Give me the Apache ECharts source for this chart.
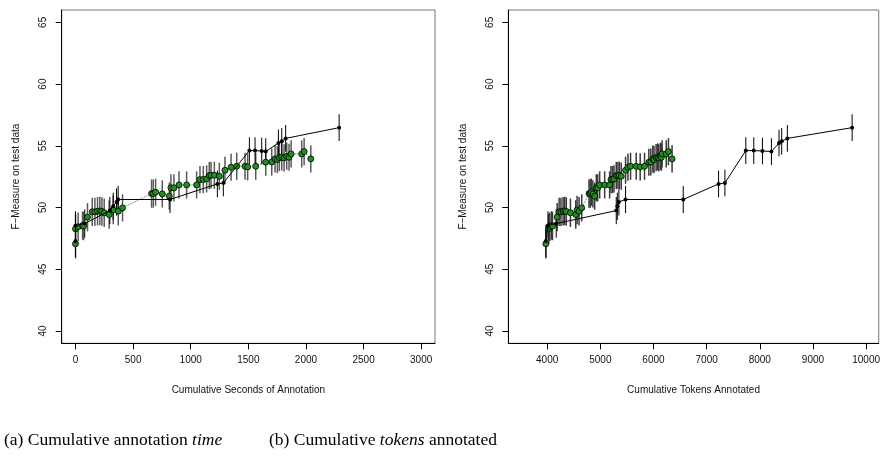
<!DOCTYPE html>
<html><head><meta charset="utf-8">
<script src="https://cdn.jsdelivr.net/npm/echarts@6/dist/echarts.min.js"></script>
<style>html,body{margin:0;padding:0;background:#fff}#c{width:883px;height:460px}</style>
</head><body><div id="c"></div><script>
// ---- data ----
const blackSec = [0, 0, 80, 298, 327, 356, 370, 820, 1231, 1283, 1509, 1558, 1616, 1651, 1761, 1790, 1824, 2288];
const blackTok = [3975, 4015, 4170, 5300, 5320, 5350, 5475, 6560, 7225, 7344, 7737, 7887, 8050, 8219, 8362, 8412, 8519, 9737];
const blackF   = [47.28, 48.55, 48.7, 49.75, 50.1, 50.45, 50.65, 50.65, 51.91, 51.99, 54.61, 54.61, 54.58, 54.53, 55.23, 55.36, 55.6, 56.47];
const blackErr = [1.3, 1.15, 1.15, 1.1, 1.1, 1.1, 1.1, 1.1, 1.08, 1.08, 1.08, 1.08, 1.08, 1.08, 1.08, 1.08, 1.08, 1.08];

const greenSec = [0, 0, 23, 61, 70, 104, 145, 168, 191, 211, 229, 249, 292, 327, 371, 408,
  660, 675, 695, 753, 814, 828, 854, 898, 964, 1051, 1080, 1109, 1138, 1161, 1176, 1205, 1248,
  1297, 1350, 1399, 1471, 1494, 1564, 1651, 1703, 1732, 1752, 1769, 1790, 1810, 1833, 1853, 1871, 1963, 1984, 2042];
const greenTok = [3976, 4030, 4050, 4080, 4100, 4188, 4225, 4260, 4300, 4330, 4360, 4438, 4538, 4563, 4600, 4650,
  4788, 4810, 4832, 4860, 4894, 4925, 4950, 4988, 5082, 5175, 5200, 5230, 5257, 5300, 5332, 5360, 5394,
  5475, 5520, 5569, 5675, 5750, 5832, 5913, 5950, 5988, 6010, 6050, 6080, 6100, 6130, 6150, 6163, 6240, 6282, 6350];
const greenF = [47.06, 48.27, 48.44, 48.54, 48.5, 49.22, 49.65, 49.65, 49.7, 49.72, 49.68, 49.57, 49.43, 49.8, 49.7, 49.97,
  51.13, 51.13, 51.24, 51.1, 50.92, 51.6, 51.59, 51.83, 51.83, 51.83, 52.26, 52.26, 52.32, 52.59, 52.61, 52.61, 52.53,
  53.02, 53.26, 53.34, 53.34, 53.29, 53.34, 53.67, 53.69, 53.94, 53.88, 54.04, 54.1, 54.02, 54.15, 54.07, 54.34, 54.34, 54.53, 53.94];
const greenErr = [1.2, 1.2, 1.15, 1.15, 1.15, 1.15, 1.15, 1.15, 1.15, 1.15, 1.15, 1.15, 1.15, 1.15, 1.15, 1.1,
  1.15, 1.15, 1.1, 1.1, 1.1, 1.1, 1.1, 1.1, 1.1, 1.1, 1.1, 1.1, 1.1, 1.1, 1.1, 1.1, 1.1,
  1.1, 1.1, 1.1, 1.1, 1.1, 1.1, 1.1, 1.1, 1.1, 1.1, 1.1, 1.1, 1.1, 1.1, 1.1, 1.1, 1.1, 1.1, 1.1];

const secTicks = [0, 500, 1000, 1500, 2000, 2500, 3000];
const tokTicks = [4000, 5000, 6000, 7000, 8000, 9000, 10000];
const fTicks = [40, 45, 50, 55, 60, 65];

const FONT = 'Liberation Sans';
const SERIF = 'Liberation Serif';

function pairs(xs, ys) { return xs.map((x, i) => [x, ys[i]]); }
function errs(xs, ys, es) { return xs.map((x, i) => [x, ys[i] - es[i], ys[i] + es[i]]); }
function plain(v) { return String(v); }

function errSeries(idx, data, color, width, z) {
  return {
    type: 'custom', xAxisIndex: idx, yAxisIndex: idx, z: z, silent: true,
    data: data,
    renderItem: function (params, api) {
      const a = api.coord([api.value(0), api.value(1)]);
      const b = api.coord([api.value(0), api.value(2)]);
      return { type: 'line', shape: { x1: a[0], y1: a[1], x2: b[0], y2: b[1] },
               style: { stroke: color, lineWidth: width } };
    }
  };
}

function xAxisDef(gi, min, max, ticks, name) {
  return {
    type: 'value', gridIndex: gi, min: min, max: max, position: 'bottom',
    axisLine: { show: true, onZero: false, lineStyle: { color: '#000', width: 1 } },
    axisTick: { show: true, customValues: ticks, length: 6, lineStyle: { color: '#000' } },
    axisLabel: { customValues: ticks, formatter: plain, margin: 12, fontSize: 10, fontFamily: FONT, color: '#111' },
    splitLine: { show: false },
    name: name, nameLocation: 'middle', nameGap: 42,
    nameTextStyle: { fontSize: 10, fontFamily: FONT, color: '#111' }
  };
}
function yAxisDef(gi, name) {
  return {
    type: 'value', gridIndex: gi, min: 39, max: 66, position: 'left',
    axisLine: { show: true, onZero: false, lineStyle: { color: '#000', width: 1 } },
    axisTick: { show: true, customValues: fTicks, length: 6, lineStyle: { color: '#000' } },
    axisLabel: { customValues: fTicks, formatter: plain, rotate: 90, margin: 13, fontSize: 10, fontFamily: FONT, color: '#111' },
    splitLine: { show: false },
    name: name, nameLocation: 'middle', nameGap: 40, nameRotate: 90,
    nameTextStyle: { fontSize: 10, fontFamily: FONT, color: '#111' }
  };
}

function lineSeries(idx, data, opts) {
  return Object.assign({
    type: 'line', xAxisIndex: idx, yAxisIndex: idx, data: data, silent: true, animation: false
  }, opts);
}

const series = [];
[[0, greenSec, blackSec], [1, greenTok, blackTok]].forEach(function (s) {
  const i = s[0];
  series.push(errSeries(i, errs(s[1], greenF, greenErr), i === 0 ? '#5a5a5a' : '#3a3a3a', 1.5, 1));
  series.push(errSeries(i, errs(s[2], blackF, blackErr), '#000', 1, 2));
  series.push(lineSeries(i, pairs(s[1], greenF), {
    z: 3, symbol: 'circle', symbolSize: 6, showAllSymbol: true,
    lineStyle: { color: '#666', width: 1, type: 'dotted' },
    itemStyle: { color: '#1f8f1f', borderColor: '#000', borderWidth: 0.8 }
  }));
  series.push(lineSeries(i, pairs(s[2], blackF), {
    z: 4, symbol: 'circle', symbolSize: 4, showAllSymbol: true,
    lineStyle: { color: '#000', width: 1 },
    itemStyle: { color: '#000', borderColor: '#000', borderWidth: 0 }
  }));
});

const option = {
  animation: false,
  backgroundColor: '#fff',
  grid: [
    { left: 61.7, top: 10, width: 373.3, height: 333.3, show: true, borderColor: '#777', borderWidth: 1, containLabel: false },
    { left: 508.3, top: 10, width: 371.7, height: 333.3, show: true, borderColor: '#777', borderWidth: 1, containLabel: false }
  ],
  xAxis: [
    xAxisDef(0, -120, 3120, secTicks, 'Cumulative Seconds of Annotation'),
    xAxisDef(1, 3269, 10238, tokTicks, 'Cumulative Tokens Annotated')
  ],
  yAxis: [
    yAxisDef(0, 'F\u2212Measure on test data'),
    yAxisDef(1, 'F\u2212Measure on test data')
  ],
  series: series,
  graphic: [
    { type: 'text', x: 4, y: 430, style: {
        text: '{n|(a) Cumulative annotation }{i|time}', verticalAlign: 'top',
        rich: { n: { fontFamily: SERIF, fontSize: 17.5, fill: '#000', lineHeight: 20 },
                i: { fontFamily: SERIF, fontSize: 17.5, fontStyle: 'italic', fill: '#000', lineHeight: 20 } } } },
    { type: 'text', x: 269, y: 430, style: {
        text: '{n|(b) Cumulative }{i|tokens}{n| annotated}', verticalAlign: 'top',
        rich: { n: { fontFamily: SERIF, fontSize: 17.5, fill: '#000', lineHeight: 20 },
                i: { fontFamily: SERIF, fontSize: 17.5, fontStyle: 'italic', fill: '#000', lineHeight: 20 } } } }
  ]
};
const chart = echarts.init(document.getElementById('c'), null, { renderer: 'canvas' });
chart.setOption(option);
</script></body></html>
